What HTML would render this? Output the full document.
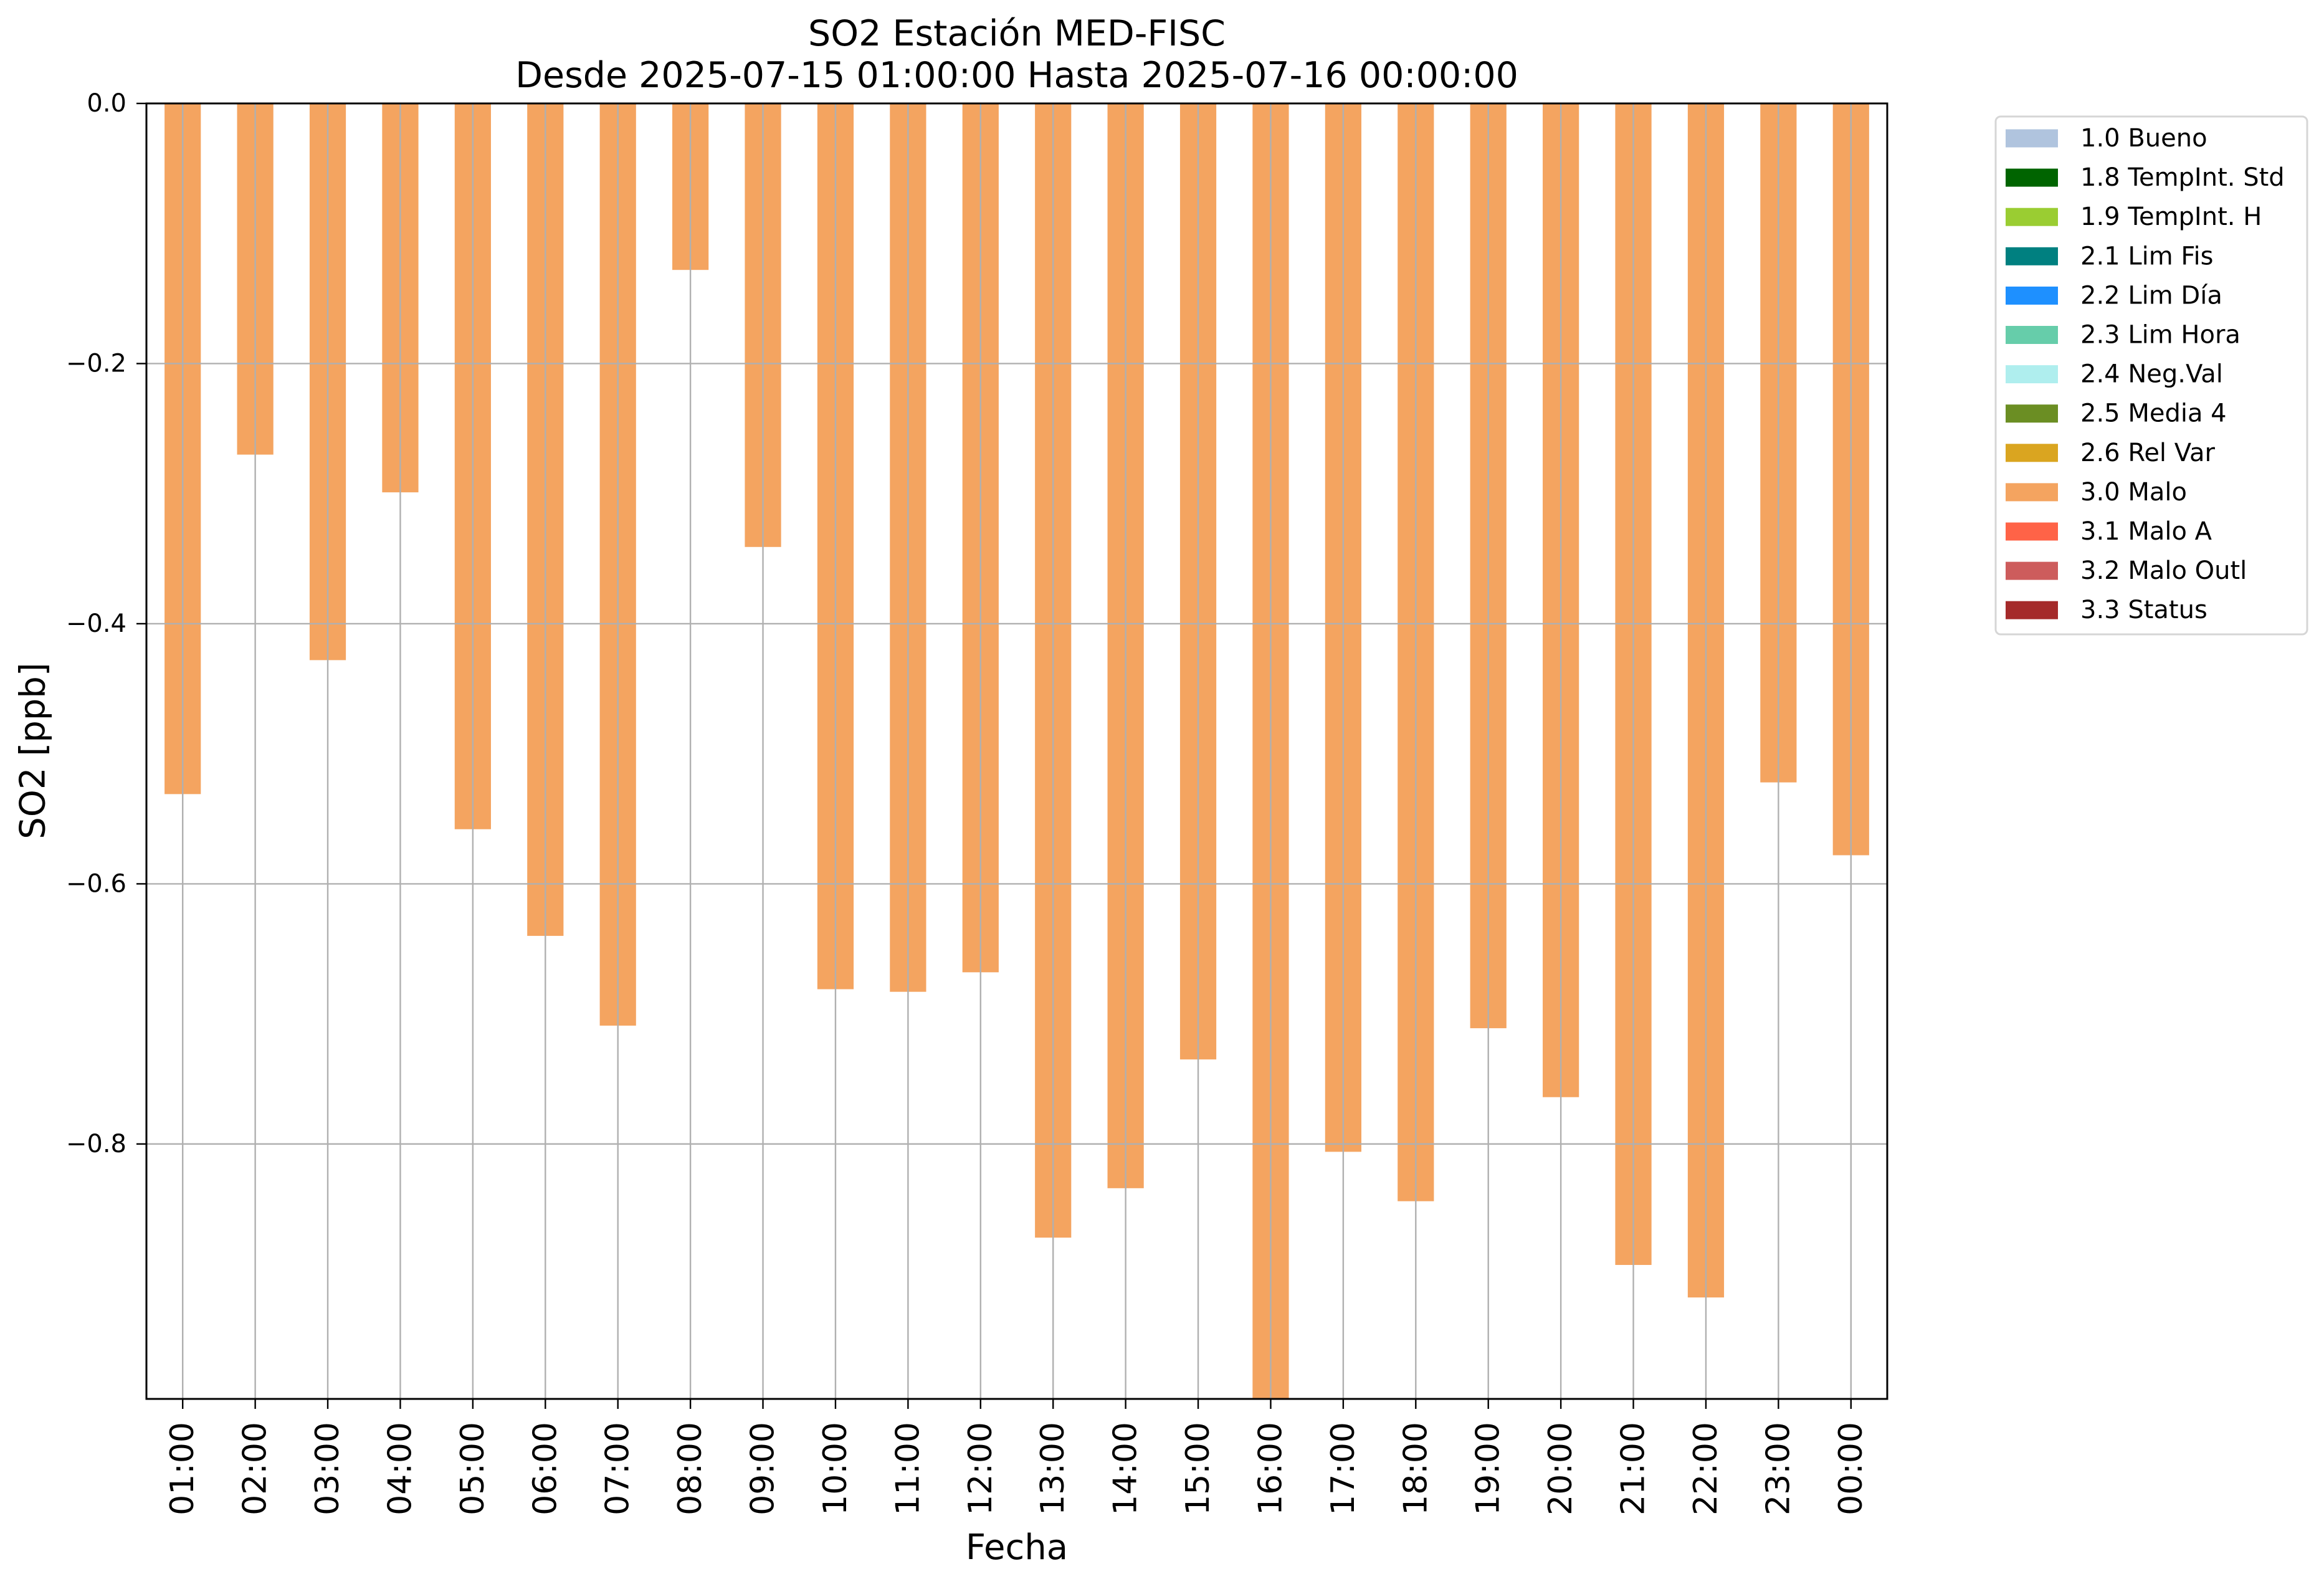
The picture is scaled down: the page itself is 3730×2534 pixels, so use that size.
<!DOCTYPE html>
<html><head><meta charset="utf-8"><style>
html,body{margin:0;padding:0;background:#fff;}
svg{display:block;font-family:"DejaVu Sans","Liberation Sans",sans-serif;}
</style></head><body>
<svg id="chart" width="3730" height="2534" viewBox="0 0 3730 2534" xmlns="http://www.w3.org/2000/svg">
<rect x="0" y="0" width="3730" height="2534" fill="#fff"/>
<text x="1632" y="73" text-anchor="middle" font-size="57">SO2 Estación MED-FISC</text>
<text x="1632" y="140" text-anchor="middle" font-size="57">Desde 2025-07-15 01:00:00 Hasta 2025-07-16 00:00:00</text>
<g id="bars"></g>
<g id="grid"></g>
<g id="axes"></g>
<text x="1632" y="2502" text-anchor="middle" font-size="56">Fecha</text>
<text transform="translate(53,1205) rotate(-90)" text-anchor="middle" dominant-baseline="central" font-size="56">SO2 [ppb]</text>
<g id="legend"></g>
</svg>
<script>
const categories = ["01:00","02:00","03:00","04:00","05:00","06:00","07:00","08:00","09:00","10:00","11:00","12:00","13:00","14:00","15:00","16:00","17:00","18:00","19:00","20:00","21:00","22:00","23:00","00:00"];
const values = [-0.531,-0.270,-0.428,-0.299,-0.558,-0.640,-0.709,-0.128,-0.341,-0.681,-0.683,-0.668,-0.872,-0.834,-0.735,-1.0,-0.806,-0.844,-0.711,-0.764,-0.893,-0.918,-0.522,-0.578];
const yTicks = [0.0,-0.2,-0.4,-0.6,-0.8];
const yTickLabels = ["0.0","\u22120.2","\u22120.4","\u22120.6","\u22120.8"];
const legendLabels = ["1.0 Bueno","1.8 TempInt. Std","1.9 TempInt. H","2.1 Lim Fis","2.2 Lim Día","2.3 Lim Hora","2.4 Neg.Val","2.5 Media 4","2.6 Rel Var","3.0 Malo","3.1 Malo A","3.2 Malo Outl","3.3 Status"];
const legendColors = ["#b0c4de","#006400","#9acd32","#008080","#1e90ff","#66cdaa","#afeeee","#6b8e23","#daa520","#f4a460","#ff6347","#cd5c5c","#a52a2a"];

const NS="http://www.w3.org/2000/svg";
const L=235,R=3029,T=166,B=2245,yMin=-0.996,yMax=0;
const xs=i=>L+(i+0.5)*(R-L)/categories.length;
const ys=v=>T+(yMax-Math.max(v,yMin))/(yMax-yMin)*(B-T);
const bw=0.5*(R-L)/categories.length;
function mk(tag,attrs,parent){const e=document.createElementNS(NS,tag);for(const k in attrs)e.setAttribute(k,attrs[k]);parent.appendChild(e);return e;}
const gb=document.getElementById('bars'),gg=document.getElementById('grid'),ga=document.getElementById('axes'),gl=document.getElementById('legend');
values.forEach((v,i)=>{
  const r=mk('rect',{x:xs(i)-bw/2,y:ys(0),width:bw,height:ys(v)-ys(0),fill:'#f4a460'},gb);
  
  
});
categories.forEach((c,i)=>{
  const l=mk('line',{x1:xs(i),x2:xs(i),y1:T,y2:B,stroke:'#b0b0b0','stroke-width':2.4},gg);
  
  
  const t=mk('line',{x1:xs(i),x2:xs(i),y1:B,y2:B+16,stroke:'#000','stroke-width':2.4},ga);
  
  
  const tx=mk('text',{transform:`translate(${xs(i)},2282) rotate(-90)`,'text-anchor':'end','dominant-baseline':'central','font-size':52},ga);
  tx.textContent=c;
  
  
});
yTicks.forEach((v,i)=>{
  const y=ys(v);
  const l=mk('line',{x1:L,x2:R,y1:y,y2:y,stroke:'#b0b0b0','stroke-width':2.4},gg);
  
  
  const t=mk('line',{x1:L-16,x2:L,y1:y,y2:y,stroke:'#000','stroke-width':2.4},ga);
  
  
  const tx=mk('text',{x:203,y:y,'text-anchor':'end','dominant-baseline':'central','font-size':40},ga);
  tx.textContent=yTickLabels[i];
  
  
});
const fr=mk('rect',{x:L,y:T,width:R-L,height:B-T,fill:'none',stroke:'#000','stroke-width':3},ga);


const lb=mk('rect',{x:3203,y:187,width:500,height:831,rx:8,fill:'#fff',stroke:'#d6d6d6','stroke-width':3},gl);


legendLabels.forEach((s,i)=>{
  const cy=222+i*63.1;
  const p=mk('rect',{x:3219,y:cy-14.5,width:84,height:29,fill:legendColors[i]},gl);
  
  
  const t=mk('text',{x:3339,y:cy,'dominant-baseline':'central','font-size':40},gl);
  t.textContent=s;
  
  
});
</script>
</body></html>
